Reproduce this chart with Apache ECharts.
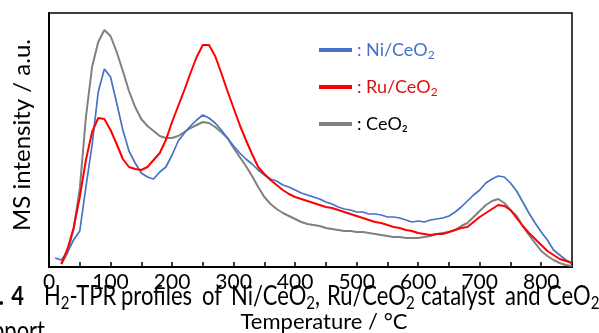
<!DOCTYPE html>
<html>
<head>
<meta charset="utf-8">
<script src="https://cdn.jsdelivr.net/npm/echarts@6/dist/echarts.min.js"></script>
<style>
  html, body { margin: 0; padding: 0; background: #fff; }
  #chart { width: 599px; height: 333px; }
</style>
</head>
<body>
<div id="chart"></div>
<script>
// Temperature grid (°C)
const temperature = [
  10, 20, 30, 40, 50, 60, 70, 80, 90, 100,
  110, 120, 130, 140, 150, 160, 170, 180, 190, 200,
  210, 220, 230, 240, 250, 260, 270, 280, 290, 300,
  310, 320, 330, 340, 350, 360, 370, 380, 390, 400,
  410, 420, 430, 440, 450, 460, 470, 480, 490, 500,
  510, 520, 530, 540, 550, 560, 570, 580, 590, 600,
  610, 620, 630, 640, 650, 660, 670, 680, 690, 700,
  710, 720, 730, 740, 750, 760, 770, 780, 790, 800,
  810, 820, 830, 840, 850
];

// MS intensity (a.u.) of each sample
const niCeO2 = [
  9, 7, 15, 27, 36, 80, 122, 175, 198, 190,
  164, 137, 116, 104, 94, 90, 88, 95, 100, 112,
  126, 134, 141, 147, 152, 149, 144, 137, 129, 121,
  114, 108, 103, 97, 92, 88, 86, 82, 80, 77,
  74, 72, 70, 68, 65, 63, 60, 58, 57, 55,
  55, 53, 53, 52, 50, 50, 49, 47, 45, 46,
  45, 47, 48, 49, 51, 55, 60, 66, 72, 77,
  84, 88, 91, 90, 84, 76, 65, 54, 44, 35,
  27, 17, 12, 7, 4
];
const ruCeO2 = [
  null, 3, 18, 39, 70, 107, 135, 149, 148, 137,
  123, 108, 100, 98, 97, 100, 107, 114, 127, 145,
  161, 177, 194, 210, 222, 222, 211, 194, 176, 159,
  142, 127, 113, 100, 93, 87, 82, 77, 73, 70,
  68, 66, 64, 62, 60, 59, 57, 55, 53, 51,
  49, 47, 45, 44, 42, 40, 39, 37, 36, 34,
  33, 32, 33, 33, 35, 37, 39, 40, 45, 50,
  54, 58, 62, 61, 57, 49, 41, 34, 28, 22,
  16, 12, 8, 6, 4
];
const ceO2 = [
  null, 3, 14, 38, 78, 150, 200, 225, 237, 231,
  215, 196, 176, 160, 148, 141, 136, 131, 129, 129,
  131, 135, 139, 142, 145, 144, 140, 135, 129, 119,
  110, 101, 91, 80, 70, 63, 58, 54, 51, 48,
  45, 43, 42, 41, 39, 38, 37, 36, 36, 35,
  35, 34, 33, 32, 31, 30, 30, 29, 29, 29,
  30, 31, 33, 34, 35, 37, 41, 44, 50, 56,
  62, 66, 68, 64, 57, 51, 41, 32, 24, 16,
  11, 7, 4, 2, 1
];

// Sample names and legend labels
const seriesNames = ['Ni/CeO2', 'Ru/CeO2', 'CeO2'];
const legendLabels = {
  'Ni/CeO2': '{t|: Ni/CeO}{s|2}',
  'Ru/CeO2': '{t|: Ru/CeO}{s|2}',
  'CeO2': '{t|: CeO₂}'
};

const FONT = 'Lato';
const CAPTION_Y = 280;
const CAPTION_SCALE = 1.2;
const pairs = vals => temperature.map((t, i) => [t, vals[i]]);

const chart = echarts.init(document.getElementById('chart'), null, { renderer: 'canvas' });

const subRich = (size, sub) => ({
  a: { fontFamily: FONT, fontSize: size, lineHeight: size + 5, color: '#000' },
  s: { fontFamily: FONT, fontSize: sub, lineHeight: sub, verticalAlign: 'bottom', color: '#000' }
});

// caption text below the plot, drawn slightly taller than wide
function captionText(x, y, style) {
  return {
    type: 'text', x: x, y: y, z: 10, scaleY: CAPTION_SCALE,
    style: Object.assign({ align: 'left', verticalAlign: 'top' }, style)
  };
}
function captionWord(x, text) {
  return captionText(x, CAPTION_Y, { text: text, rich: subRich(22, 15) });
}

chart.setOption({
  animation: false,
  backgroundColor: '#fff',
  grid: {
    left: 49, top: 13, right: 27, bottom: 66,
    show: true, borderColor: '#000', borderWidth: 1.5
  },
  xAxis: {
    type: 'value', min: 0, max: 850, interval: 50,
    axisLine: { show: true, onZero: false, lineStyle: { color: '#000', width: 2 } },
    axisTick: { show: true, inside: true, length: 5, lineStyle: { color: '#000', width: 1.5 } },
    axisLabel: {
      color: '#000', fontFamily: FONT, fontSize: 21, margin: 5,
      formatter: v => (v % 100 === 0 && v <= 800) ? String(v) : ''
    },
    splitLine: { show: false }
  },
  yAxis: {
    type: 'value', min: 0, max: 254,
    axisLine: { show: true, lineStyle: { color: '#000', width: 2 } },
    axisTick: { show: false },
    axisLabel: { show: false },
    splitLine: { show: false }
  },
  legend: {
    orient: 'vertical', left: 314, top: 34,
    itemWidth: 33, itemHeight: 4, itemGap: 15, icon: 'rect',
    data: [
      { name: seriesNames[0], textStyle: { color: '#4472C4' } },
      { name: seriesNames[1], textStyle: { color: '#DD1111' } },
      { name: seriesNames[2], textStyle: { color: '#000' } }
    ],
    formatter: name => legendLabels[name],
    textStyle: {
      fontFamily: FONT, fontSize: 18, lineHeight: 22,
      rich: {
        t: { fontFamily: FONT, fontSize: 18, lineHeight: 22 },
        s: { fontFamily: FONT, fontSize: 12, lineHeight: 12, verticalAlign: 'bottom' }
      }
    }
  },
  series: [
    {
      name: seriesNames[2], type: 'line', data: pairs(ceO2),
      symbol: 'none', color: '#808080', lineStyle: { width: 2, color: '#808080' }, z: 2
    },
    {
      name: seriesNames[0], type: 'line', data: pairs(niCeO2),
      symbol: 'none', color: '#4472C4', lineStyle: { width: 1.7, color: '#4472C4' }, z: 3
    },
    {
      name: seriesNames[1], type: 'line', data: pairs(ruCeO2),
      symbol: 'none', color: '#FF0000', lineStyle: { width: 2, color: '#FF0000' }, z: 4
    }
  ],
  graphic: [
    {
      type: 'text', x: 22, y: 135, rotation: Math.PI / 2,
      style: { text: 'MS intensity / a.u.', font: '24px Lato', fill: '#000', align: 'center', verticalAlign: 'middle' }
    },
    {
      type: 'text', x: 324, y: 322,
      style: { text: 'Temperature / °C', font: '22px Lato', fill: '#000', align: 'center', verticalAlign: 'middle' }
    },
    captionText(4, CAPTION_Y, { text: 'Fig.', font: 'bold 22px Lato', fill: '#000', align: 'right', lineHeight: 27 }),
    captionText(24, CAPTION_Y, { text: '4', font: 'bold 22px Lato', fill: '#000', align: 'right', lineHeight: 27 }),
    captionText(45, 315, { text: 'support', font: '22px Lato', fill: '#000', align: 'right', lineHeight: 27 }),
    captionWord(44, '{a|H}{s|2}{a|-TPR}'),
    captionWord(121, '{a|profiles}'),
    captionWord(202, '{a|of}'),
    captionWord(231, '{a|Ni/CeO}{s|2}{a|,}'),
    captionWord(327, '{a|Ru/CeO}{s|2}'),
    captionWord(421, '{a|catalyst}'),
    captionWord(505, '{a|and}'),
    captionWord(547, '{a|CeO}{s|2}')
  ]
});
</script>
</body>
</html>
